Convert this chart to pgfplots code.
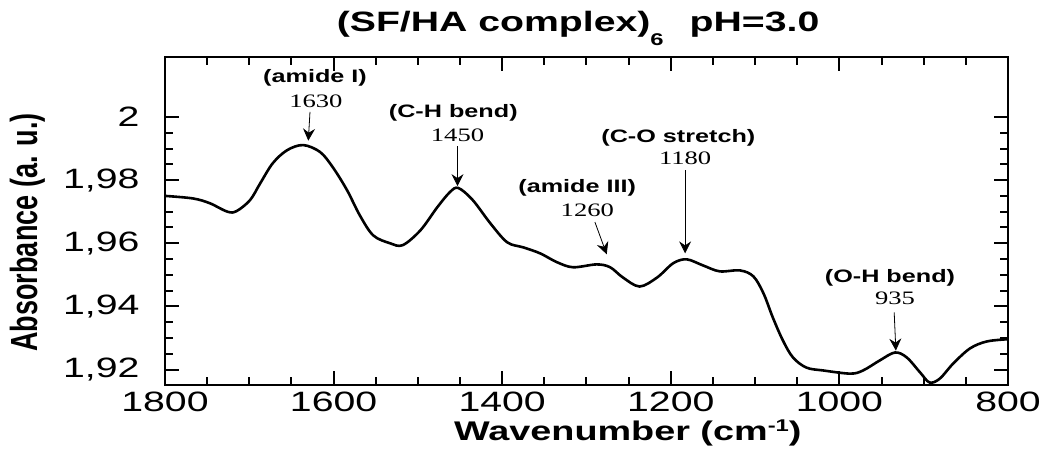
\documentclass[border=0pt]{standalone}
\usepackage{fontspec}
\setmainfont{Liberation Sans}[FakeStretch=1.4]
\newfontfamily\plainsans{Liberation Sans}
\newfontfamily\sernum{Liberation Serif}[FakeStretch=1.4]
\usepackage{pgfplots}
\pgfplotsset{compat=1.18}
\usetikzlibrary{arrows.meta}
\begin{document}
\begin{tikzpicture}[
  lab/.style={font=\fontsize{18}{18}\selectfont\bfseries, inner sep=0pt, anchor=center},
  num/.style={font=\sernum\fontsize{19}{19}\selectfont, inner sep=0pt, anchor=center},
  arr/.style={-{Stealth[length=12pt,width=12pt,inset=4pt]}, line width=0.8pt},
]
\begin{axis}[
  name=ax,
  scale only axis,
  width=843pt, height=328pt,
  x dir=reverse,
  xmin=800, xmax=1800,
  ymin=1.9151, ymax=2.0190,
  xtick={800,1000,1200,1400,1600,1800},
  ytick={1.92,1.94,1.96,1.98,2},
  minor x tick num=3,
  minor y tick num=3,
  tick align=inside,
  major tick length=14pt,
  minor tick length=8pt,
  tick style={black, line width=2pt},
  axis line style={line width=2.5pt},
  /pgf/number format/assume math mode=true,
  /pgf/number format/use comma,
  xticklabel style={font=\fontsize{28}{28}\selectfont, /pgf/number format/1000 sep={}, yshift=-3pt},
  yticklabel style={font=\fontsize{28}{28}\selectfont, xshift=-22pt},
  xlabel={Wavenumber (cm\raisebox{9pt}{\fontsize{17}{17}\selectfont -1})},
  xlabel style={font=\fontsize{27}{27}\selectfont\bfseries, at={(axis description cs:0.549,0)}, anchor=base, yshift=-55pt},
  ylabel={\scalebox{1}[1.4]{\plainsans\bfseries\fontsize{27}{27}\selectfont Absorbance (a. u.)}},
  ylabel style={at={(axis description cs:-0.1625,0.465)}, anchor=center, rotate=0},
  title={(SF/HA complex)\raisebox{-14pt}{\fontsize{17}{17}\selectfont 6}\hspace{26pt}pH=3.0},
  title style={font=\fontsize{28}{28}\selectfont\bfseries, at={(axis description cs:0.49,1)}, anchor=base, yshift=19pt},
]
\addplot[black, line width=2.6pt, smooth, tension=0.55] coordinates {
(1800,1.9750) (1767,1.9742) (1747,1.9727) (1726,1.9700) (1715,1.9702)
(1699,1.9737) (1687,1.9790) (1672,1.9854) (1655,1.9895) (1636,1.9911)
(1616,1.9889) (1601,1.9841) (1584,1.9768) (1569,1.9689) (1553,1.9625)
(1533,1.9600) (1518,1.9594) (1497,1.9641) (1477,1.9714) (1462,1.9762)
(1452,1.9775) (1435,1.9737) (1414,1.9663) (1394,1.9603) (1375,1.9587)
(1355,1.9568) (1335,1.9540) (1316,1.9524) (1288,1.9533) (1272,1.9524)
(1257,1.9492) (1237,1.9463) (1216,1.9492) (1197,1.9537) (1181,1.9549)
(1162,1.9530) (1142,1.9511) (1118,1.9514) (1102,1.9495) (1090,1.9441)
(1079,1.9365) (1067,1.9292) (1055,1.9238) (1039,1.9206) (1019,1.9197)
(987,1.9187) (972,1.9197) (952,1.9229) (934,1.9254) (920,1.9238)
(904,1.9190) (893,1.9159) (881,1.9171) (865,1.9219) (845,1.9267)
(825,1.9289) (800,1.9296)
};
\node[lab] at (axis cs:1622,2.0124) {(amide I)};
\node[num] at (axis cs:1621,2.0051) {1630};
\draw[arr] (axis cs:1628,2.0016) -- (axis cs:1630,1.9925);
\node[lab] at (axis cs:1458,2.0013) {(C-H bend)};
\node[num] at (axis cs:1453,1.9943) {1450};
\draw[arr] (axis cs:1453,1.9908) -- (axis cs:1453,1.9781);
\node[lab] at (axis cs:1311,1.9775) {(amide III)};
\node[num] at (axis cs:1299,1.9705) {1260};
\draw[arr] (axis cs:1290,1.9667) -- (axis cs:1276,1.9565);
\node[lab] at (axis cs:1191,1.9933) {(C-O stretch)};
\node[num] at (axis cs:1183,1.9870) {1180};
\draw[arr] (axis cs:1183,1.9832) -- (axis cs:1183,1.9568);
\node[lab] at (axis cs:940,1.9492) {(O-H bend)};
\node[num] at (axis cs:934,1.9425) {935};
\draw[arr] (axis cs:935,1.9381) -- (axis cs:933,1.9260);
\end{axis}
\path ([shift={(-165pt,-62pt)}]ax.south west) rectangle ++(1046pt,447pt);
\end{tikzpicture}
\end{document}
